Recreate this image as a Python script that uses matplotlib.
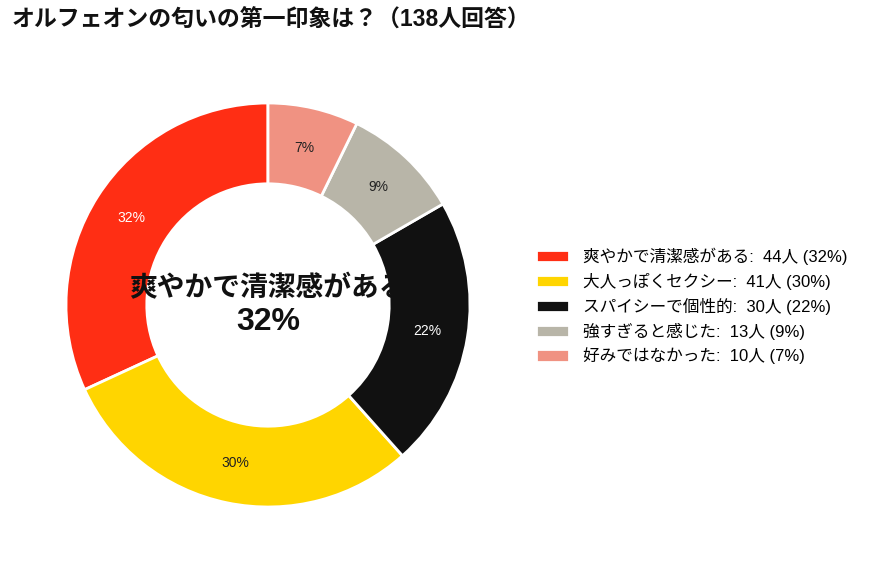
import matplotlib
matplotlib.use("Agg")
import matplotlib.pyplot as plt

plt.rcParams['font.family'] = ['Liberation Sans', 'Noto Sans CJK JP', 'DejaVu Sans']

# data
categories = ["爽やかで清潔感がある", "大人っぽくセクシー", "スパイシーで個性的", "強すぎると感じた", "好みではなかった"]
counts = [44, 41, 30, 13, 10]
colors = ["#FF2E14", "#FFD500", "#111111", "#B8B5A8", "#F09282"]
pct_colors = ["white", "#222222", "white", "#222222", "#222222"]
title = "オルフェオンの匂いの第一印象は？（138人回答）"

total = sum(counts)
shares = [c / total * 100 for c in counts]

fig = plt.figure(figsize=(8.74, 5.69), dpi=100)
ax = fig.add_axes([66 / 874, 62 / 569, 404 / 874, 404 / 569])

wedges, _, autotexts = ax.pie(
    counts, colors=colors, startangle=90, counterclock=True,
    autopct="%1.0f%%", pctdistance=0.8,
    wedgeprops=dict(width=0.4, edgecolor="white", linewidth=2),
    textprops=dict(fontsize=10),
)
for t, c in zip(autotexts, pct_colors):
    t.set_color(c)
ax.set_xlim(-1, 1)
ax.set_ylim(-1, 1)
ax.set_aspect("equal")

# centre label (top category)
ax.text(0, 0.08, categories[0], ha="center", va="center",
        fontsize=20, fontweight="bold", color="#111111")
ax.text(0, -0.085, f"{shares[0]:.0f}%", ha="center", va="center",
        fontsize=23, fontweight="bold", color="#111111")

labels = [f"{n}:  {c}人 ({s:.0f}%)" for n, c, s in zip(categories, counts, shares)]
fig.legend(wedges, labels, loc="center left", bbox_to_anchor=(536 / 874, 1 - 306 / 569),
           frameon=False, fontsize=12, handlelength=1.95, handleheight=0.75,
           handletextpad=0.85, labelspacing=0.47, borderpad=0, borderaxespad=0)

fig.text(12 / 874, 1 - 20 / 569, title, ha="left", va="center",
         fontsize=16.5, fontweight="bold", color="#111111")

fig.savefig("out.png", dpi=100)
